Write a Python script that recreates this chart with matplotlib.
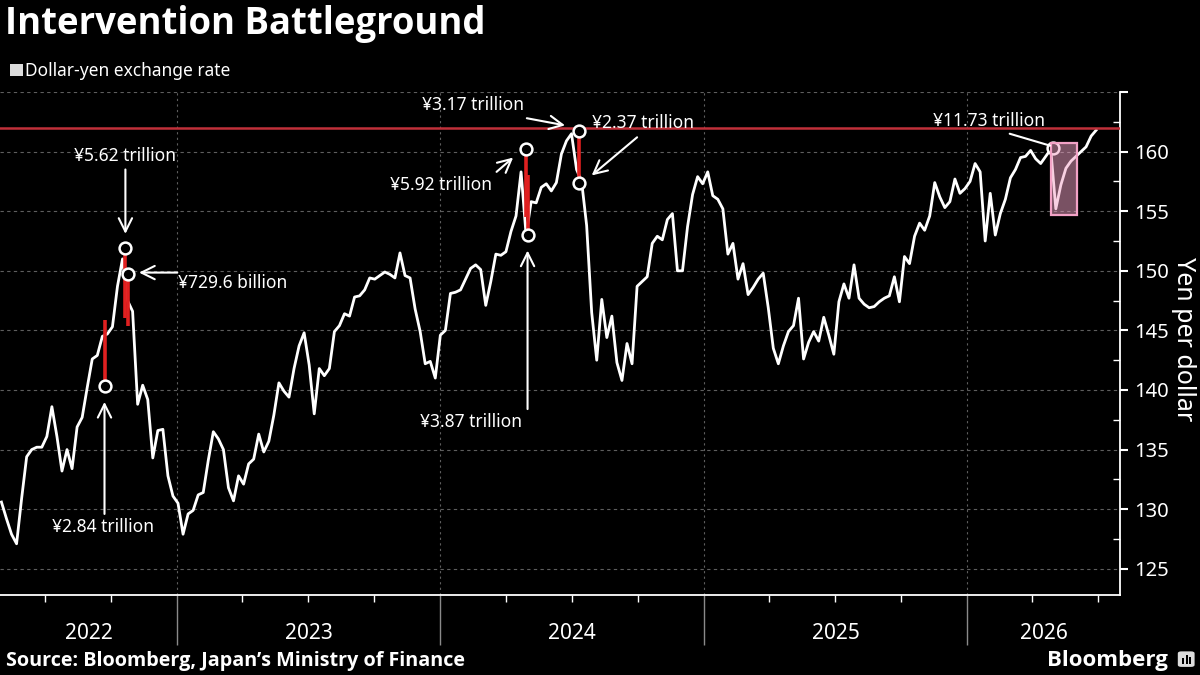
import matplotlib

matplotlib.use("Agg")
import matplotlib.pyplot as plt
import matplotlib.dates as mdates
import matplotlib.transforms as mtrans
import numpy as np
import pandas as pd
from matplotlib.patches import Rectangle, FancyBboxPatch

plt.rcParams["font.family"] = ["Noto Sans", "DejaVu Sans"]
BOLD = ["Open Sans", "DejaVu Sans"]

WHITE = "white"
GRID = "#5e5e5e"
RED = "#c0303a"
PINK = "#f2a2c6"

# ---- weekly dollar-yen (week starting Monday)
jpy_2022 = [130.6, 129.2, 127.9, 127.1, 130.9, 134.4, 135.0, 135.2, 135.2,
            136.1, 138.6, 136.1, 133.2, 135.0, 133.4, 136.9, 137.7, 140.2,
            142.6, 142.9, 144.5, 144.7, 145.3, 148.7, 151.0, 147.5, 146.6,
            138.8, 140.4, 139.2, 134.3, 136.6, 136.7, 132.8, 131.1]
jpy_2023 = [130.5, 127.9, 129.6, 129.9, 131.2, 131.4, 134.1, 136.5, 135.9,
            135.0, 131.8, 130.7, 132.8, 132.1, 133.8, 134.2, 136.3, 134.8,
            135.7, 137.9, 140.6, 139.9, 139.4, 141.8, 143.7, 144.8, 142.1,
            138.0, 141.8, 141.2, 141.8, 144.9, 145.4, 146.4, 146.2, 147.8,
            147.9, 148.4, 149.4, 149.3, 149.6, 149.9, 149.7, 149.4, 151.5,
            149.6, 149.4, 146.8, 144.9, 142.2, 142.4, 141.0]
jpy_2024 = [144.6, 145.0, 148.1, 148.2, 148.4, 149.3, 150.2, 150.5, 150.1,
            147.1, 149.1, 151.4, 151.3, 151.6, 153.3, 154.6, 158.3, 153.0,
            155.8, 155.7, 157.0, 157.3, 156.7, 157.4, 159.8, 160.9, 161.5,
            158.5, 157.5, 153.8, 146.5, 142.5, 147.6, 144.4, 146.2, 142.3,
            140.8, 143.9, 142.2, 148.7, 149.1, 149.5, 152.3, 152.9, 152.6,
            154.3, 154.8, 150.0, 150.0, 153.7, 156.4, 157.9, 157.3]
jpy_2025 = [158.3, 156.3, 156.0, 155.2, 151.4, 152.3, 149.3, 150.6, 148.0,
            148.6, 149.3, 149.8, 146.9, 143.5, 142.2, 143.7, 144.9, 145.4,
            147.7, 142.6, 144.0, 144.9, 144.1, 146.1, 144.6, 143.0, 147.4,
            148.9, 147.7, 150.5, 147.7, 147.2, 146.9, 147.0, 147.4, 147.7,
            147.9, 149.5, 147.4, 151.2, 150.6, 152.9, 154.0, 153.4, 154.6,
            157.4, 156.2, 155.3, 155.8, 157.7, 156.5, 156.9]
jpy_2026 = [157.5, 159.0, 158.3, 152.5, 156.5, 153.0, 154.8, 156.0, 157.8,
            158.5, 159.5, 159.6, 160.1, 159.4, 159.0, 159.6, 160.2, 155.2,
            157.2, 158.6, 159.2, 159.6, 160.0, 160.4, 161.3, 161.8]
rate = jpy_2022 + jpy_2023 + jpy_2024 + jpy_2025 + jpy_2026
weeks = pd.date_range("2022-05-02", periods=len(rate), freq="W-MON")

# ---- intervention days: red drop bars and rings
drop_dates = pd.to_datetime(["2022-09-22", "2022-10-21", "2022-10-24",
                             "2024-04-29", "2024-05-01", "2024-07-11"])
drop_hi = [145.9, 151.9, 149.7, 160.2, 158.0, 161.7]
drop_lo = [140.3, 146.0, 145.4, 154.5, 153.0, 157.4]
ring_dates = pd.to_datetime(["2022-09-22", "2022-10-21", "2022-10-24",
                             "2024-04-29", "2024-05-01", "2024-07-11",
                             "2024-07-12", "2026-04-30"])
ring_vals = [140.3, 151.9, 149.7, 160.2, 153.0, 161.7, 157.4, 160.3]
ceiling = 161.95
box_dates = pd.to_datetime(["2026-04-28", "2026-06-02"])
box_vals = [154.7, 160.7]

# label, text anchor, alignment, arrow start, arrow end, arrow style
notes = [
    ("¥5.62 trillion", ("2022-10-21", 159.6), "center", ("2022-10-21", 158.5), ("2022-10-21", 153.1), "->"),
    ("¥729.6 billion", ("2023-01-02", 149.0), "left", ("2023-01-01", 149.85), ("2022-11-09", 149.85), "->"),
    ("¥2.84 trillion", ("2022-09-20", 128.5), "center", ("2022-09-22", 129.6), ("2022-09-22", 139.0), "->"),
    ("¥5.92 trillion", ("2024-03-12", 157.2), "right", ("2024-03-19", 158.3), ("2024-04-11", 159.5), "->"),
    ("¥3.87 trillion", ("2024-02-13", 137.3), "center", ("2024-05-01", 138.4), ("2024-05-01", 151.7), "->"),
    ("¥3.17 trillion", ("2023-12-06", 163.9), "left", ("2024-04-30", 162.8), ("2024-06-22", 162.2), "->"),
    ("¥2.37 trillion", ("2024-07-30", 162.4), "left", ("2024-09-30", 161.2), ("2024-07-29", 158.0), "->"),
    ("¥11.73 trillion", ("2026-01-31", 162.6), "center", ("2026-03-01", 161.5), ("2026-04-26", 160.5), "-"),
]

year_starts = pd.to_datetime(["2023-01-01", "2024-01-01", "2025-01-01", "2026-01-01"])
year_labels = ["2022", "2023", "2024", "2025", "2026"]
x_lo, x_hi = pd.Timestamp("2022-04-30"), pd.Timestamp("2026-08-01")

# ------------------------------------------------------------------ figure
fig = plt.figure(figsize=(12, 6.75), dpi=100, facecolor="black")
ax = fig.add_axes([0.0, 0.1185, 0.9333, 0.7452], facecolor="black")

ax.plot(weeks, rate, color=WHITE, lw=2.0, zorder=3)
ax.axhline(ceiling, color=RED, lw=1.8, zorder=4)
ax.vlines(drop_dates, drop_lo, drop_hi, color="#e02020", lw=2.6, zorder=5)
ax.plot(ring_dates, ring_vals, "o", ms=8.5, mfc="black", mec=WHITE, mew=1.8, zorder=6)

bx0, bx1 = mdates.date2num(box_dates)
ax.add_patch(Rectangle((bx0, box_vals[0]), bx1 - bx0, box_vals[1] - box_vals[0],
                       facecolor=PINK, alpha=0.5, edgecolor="none", zorder=7))
ax.add_patch(Rectangle((bx0, box_vals[0]), bx1 - bx0, box_vals[1] - box_vals[0],
                       facecolor="none", edgecolor=PINK, lw=1.6, zorder=7))

for label, (td, tv), ha, (fd, fv), (ed, ev), style in notes:
    ax.text(pd.Timestamp(td), tv, label, color=WHITE, fontsize=12.5, ha=ha, va="center", zorder=8)
    ax.annotate("", xy=(pd.Timestamp(ed), ev), xytext=(pd.Timestamp(fd), fv),
                arrowprops=dict(arrowstyle=style, color=WHITE, lw=1.5,
                                shrinkA=0, shrinkB=0, mutation_scale=24), zorder=8)

# axes styling
ax.set_xlim(x_lo, x_hi)
ax.set_ylim(122.8, 165)
for side in ("top", "left"):
    ax.spines[side].set_visible(False)
for side in ("bottom", "right"):
    ax.spines[side].set_color(WHITE)
    ax.spines[side].set_linewidth(1.3)

ax.yaxis.tick_right()
ax.set_yticks(np.arange(125, 166, 5))
ax.set_yticks(np.arange(127.5, 165, 5), minor=True)
ax.set_yticklabels([f"{v:d}" if v < 165 else "" for v in range(125, 166, 5)])
ax.tick_params(axis="y", which="major", colors=WHITE, labelsize=14.5, length=6, width=1.5, pad=4)
ax.tick_params(axis="y", which="minor", colors=WHITE, length=5, width=1, direction="in")
fig.text(0.986, 0.497, "Yen per dollar", color=WHITE, fontsize=18, rotation=-90,
         ha="center", va="center")

ax.set_xticks(year_starts)
ax.set_xticklabels([])
ax.xaxis.set_minor_locator(mdates.MonthLocator(bymonth=[1, 4, 7, 10]))
ax.tick_params(axis="x", which="major", colors="#8a8a8a", length=36, width=1)
ax.tick_params(axis="x", which="minor", colors=WHITE, length=5, width=1)

for v in range(125, 166, 5):
    ax.axhline(v, color=GRID, lw=0.8, ls=(0, (3, 3)), zorder=1)
for d in year_starts:
    ax.axvline(d, color=GRID, lw=0.8, ls=(0, (2, 3)), zorder=1)

edges = [x_lo] + list(year_starts) + [x_hi]
trans = mtrans.blended_transform_factory(ax.transData, ax.transAxes)
for lab, a, b in zip(year_labels, edges[:-1], edges[1:]):
    ax.text(a + (b - a) / 2, -0.077, lab, transform=trans, color=WHITE,
            fontsize=15, ha="center", va="center")

# header, legend, footer
fig.text(0.004, 0.965, "Intervention Battleground", color=WHITE, fontsize=26.3,
         fontweight="bold", family=BOLD, ha="left", va="center")
fig.patches.append(Rectangle((0.0085, 0.8875), 0.0105, 0.0175, transform=fig.transFigure,
                             facecolor="#dcdcdc", edgecolor="none"))
fig.text(0.021, 0.895, "Dollar-yen exchange rate", color=WHITE, fontsize=12.5,
         ha="left", va="center")
fig.text(0.005, 0.021, "Source: Bloomberg, Japan’s Ministry of Finance", color=WHITE,
         fontsize=14.2, fontweight="bold", family=BOLD, ha="left", va="center")
fig.text(0.973, 0.022, "Bloomberg", color=WHITE, fontsize=16, fontweight="bold",
         family=BOLD, ha="right", va="center")
fig.patches.append(FancyBboxPatch((0.9825, 0.013), 0.012, 0.021, transform=fig.transFigure,
                                  boxstyle="round,pad=0.001,rounding_size=0.003",
                                  facecolor="#dddddd", edgecolor="none"))
for bx, bh in zip([0.9852, 0.9882, 0.9912], [0.008, 0.013, 0.010]):
    fig.patches.append(Rectangle((bx, 0.017), 0.0014, bh, transform=fig.transFigure,
                                 facecolor="black", edgecolor="none"))

fig.savefig("out.png", dpi=100, facecolor="black")
